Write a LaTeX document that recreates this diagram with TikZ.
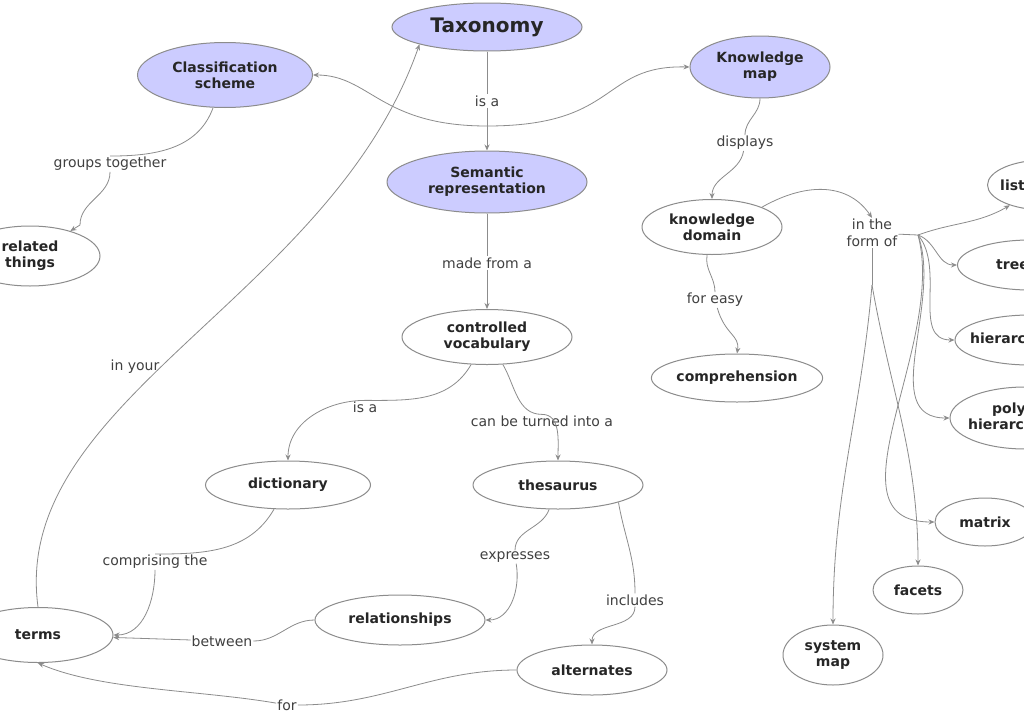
\documentclass[tikz,border=0pt]{standalone}
\usepackage{fontspec}
\setmainfont{DejaVu Sans}
\usetikzlibrary{shapes.geometric,arrows.meta}
\definecolor{bl}{HTML}{CCCCFF}
\definecolor{ln}{HTML}{8C8C8C}
\begin{document}
\begin{tikzpicture}[x=1pt,y=-1pt,
 nd/.style={ellipse,draw=ln,fill=white,line width=1pt,inner sep=0pt,align=center,font=\bfseries\fontsize{14}{16}\selectfont,text=black!85},
 bn/.style={nd,fill=bl},
 tx/.style={font=\bfseries\fontsize{14}{16}\selectfont,text=black!85,align=left,anchor=west,inner sep=0pt},
 lb/.style={font=\fontsize{14}{17}\selectfont,text=black!75,align=center,fill=white,inner sep=1pt},
 l/.style={draw=ln,line width=0.8pt},
 a/.style={l,-{Stealth[length=6pt,width=5pt]}}]
\useasboundingbox (0,0) rectangle (1024,720);
\clip (0,0) rectangle (1024,720);
\fill[white] (0,0) rectangle (1024,720);
% labels
\node[lb] (isa1) at (487,101) {is a};
\coordinate (j) at (487,126);
\node[lb] (grp) at (110,164) {groups together};
\node[lb] (made) at (487,263) {made from a};
\node[lb] (disp) at (745,143) {displays};
\node[lb] (easy) at (715,300) {for easy};
\node[lb] (form) at (872,233) {in the\\form of};
\coordinate (fj) at (918,235);
\coordinate (fk) at (872,285);
\node[lb] (your) at (135,367) {in your};
\node[lb] (isa2) at (365,407) {is a};
\node[lb] (turn) at (542,421) {can be turned into a};
\node[lb] (comp) at (155,562) {comprising the};
\node[lb] (expr) at (515,557) {expresses};
\node[lb] (incl) at (635,600) {includes};
\node[lb] (betw) at (222,641) {between};
\node[lb] (for) at (287,705) {for};
% nodes
\node[bn,minimum width=190,minimum height=48,font=\bfseries\fontsize{20}{22}\selectfont] (tax) at (487,27) {Taxonomy};
\node[bn,minimum width=175,minimum height=65] (cls) at (225,75) {Classification\\scheme};
\node[bn,minimum width=140,minimum height=62] (km) at (760,67) {Knowledge\\map};
\node[bn,minimum width=200,minimum height=62] (sem) at (487,182) {Semantic\\representation};
\node[nd,minimum width=140,minimum height=60] (rel) at (30,256) {related\\things};
\node[nd,minimum width=170,minimum height=55] (cv) at (487,337) {controlled\\vocabulary};
\node[nd,minimum width=165,minimum height=48] (dic) at (288,485) {dictionary};
\node[nd,minimum width=170,minimum height=48] (the) at (558,485) {thesaurus};
\node[nd,minimum width=150,minimum height=55] (ter) at (38,635) {terms};
\node[nd,minimum width=170,minimum height=50] (rls) at (400,620) {relationships};
\node[nd,minimum width=150,minimum height=50] (alt) at (592,670) {alternates};
\node[nd,minimum width=140,minimum height=55] (kd) at (712,227) {knowledge\\domain};
\node[nd,minimum width=165,minimum height=48] (cmp) at (737,378) {comprehension};
\node[nd,minimum width=115,minimum height=50] (lst) at (1045,185) {};
\node[tx] at (1000,185) {list};
\node[nd,minimum width=145,minimum height=50] (tre) at (1030,265) {};
\node[tx] at (996,265) {tree};
\node[nd,minimum width=150,minimum height=50] (hie) at (1030,340) {};
\node[tx] at (970,340) {hierarchy};
\node[nd,minimum width=150,minimum height=62] (pol) at (1025,418) {};
\node[tx] at (968,418) {\hspace*{24pt}poly\\hierarchy};
\node[nd,minimum width=100,minimum height=48] (mat) at (985,522) {matrix};
\node[nd,minimum width=90,minimum height=48] (fac) at (918,590) {facets};
\node[nd,minimum width=100,minimum height=60] (sys) at (833,655) {system\\map};
% connectors
\draw[l] (tax) -- (isa1);
\draw[a] (isa1) -- (sem);
\draw[a] (j) .. controls (380,126) and (370,75) .. (cls.east);
\draw[a] (j) .. controls (620,126) and (600,65) .. (km.west);
\draw[l] (cls) to[out=-110,in=0] (grp.north);
\draw[a] (grp.south) to[out=-90,in=90] (80,225) -- (rel);
\draw[l] (sem) -- (made);
\draw[a] (made) -- (cv);
\draw[l] (km) to[out=-90,in=90] (disp);
\draw[a] (disp) to[out=-100,in=90] (kd);
\draw[l] (kd) to[out=-100,in=90] (easy);
\draw[a] (easy) .. controls (725,335) and (740,335) .. (cmp.north);
\draw[a] (kd.north east) .. controls (810,180) and (850,185) .. (form.north);
\draw[l] (form) -- (fj);
\draw[l] (form) -- (fk);
\draw[a] (fj) to[out=20,in=210] (lst);
\draw[a] (fj) to[out=-20,in=180] (tre);
\draw[a] (fj) to[out=-50,in=180] (hie);
\draw[a] (fj) to[out=-70,in=180] (pol);
\draw[a] (fj) to[out=-75,in=180] (mat);
\draw[a] (fk) to[out=-80,in=90] (fac);
\draw[a] (fk) to[out=-95,in=90] (sys);
\draw[l] (cv) to[out=-120,in=0] (isa2.north);
\draw[a] (isa2.north) to[out=180,in=90] (dic.north);
\draw[l] (cv) to[out=-60,in=180] (turn.north);
\draw[a] (turn.north) to[out=0,in=90] (the.north);
\draw[l] (dic) to[out=-120,in=0] (comp.north);
\draw[a] (comp.south) to[out=-90,in=0] (ter.east);
\draw[a] (ter.north) .. controls (10,400) and (330,300) .. (tax.south west);
\draw[l] (the) to[out=-110,in=90] (expr);
\draw[a] (expr) to[out=-80,in=0] (rls.east);
\draw[l] (rls) to[out=180,in=0] (betw);
\draw[a] (betw) -- (ter);
\draw[l] (the.south east) to[out=-80,in=90] (incl);
\draw[a] (incl) to[out=-90,in=90] (alt.north);
\draw[l] (alt) to[out=180,in=0] (for);
\draw[a] (for) .. controls (200,690) and (100,690) .. (ter.south);
\end{tikzpicture}
\end{document}
